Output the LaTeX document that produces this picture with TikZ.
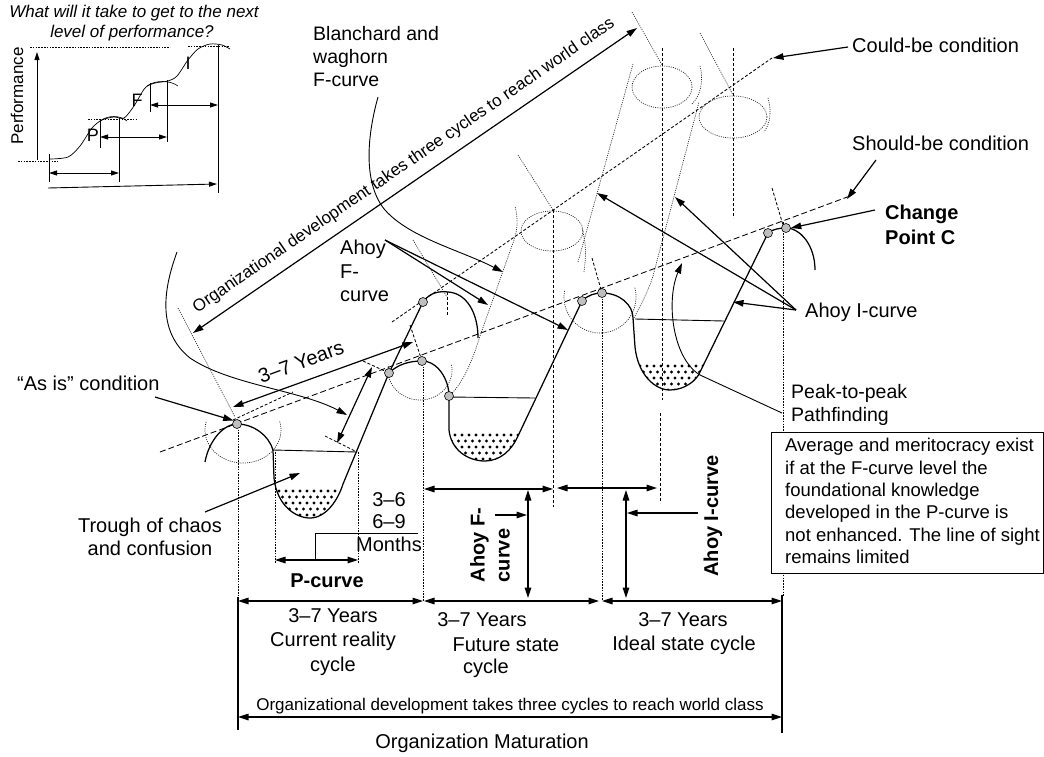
\documentclass[tikz,border=0pt]{standalone}
\usepackage{fontspec}
\setmainfont{Liberation Sans}
\usetikzlibrary{arrows.meta}
\begin{document}
\begin{tikzpicture}[x=1pt,y=-1pt,
  >={Triangle[length=10.5pt,width=6.5pt]},
  curve/.style={line width=1.25pt},
  lead/.style={line width=1.2pt},
  thinlead/.style={line width=0.9pt},
  fine/.style={line width=0.7pt, black!85, dash pattern=on 1pt off 1.2pt},
  vdot/.style={line width=0.75pt, dash pattern=on 1.6pt off 1.2pt},
  vdash/.style={line width=0.75pt, dash pattern=on 3pt off 2pt},
  should/.style={line width=0.85pt, dash pattern=on 6pt off 3pt},
  could/.style={line width=0.85pt, dash pattern=on 3pt off 2pt},
  pt/.style={circle, draw, fill=black!25, line width=0.6pt, minimum size=9pt, inner sep=0pt},
  lbl/.style={font=\fontsize{20}{23.5}\selectfont, inner sep=0pt},
  blbl/.style={font=\fontsize{20}{25}\selectfont\bfseries, inner sep=0pt},
  small/.style={font=\fontsize{17}{20}\selectfont, inner sep=0pt},
  insettext/.style={font=\fontsize{17}{20}\selectfont, inner sep=0pt},
  boxtext/.style={font=\fontsize{18.5}{22.4}\selectfont, inner sep=0pt, align=left},
  smallarrow/.style={>={Triangle[length=8pt,width=5pt]}},
]
\useasboundingbox (0,0) rectangle (1044,756);

% ---------------- inset: stepped performance curve ----------------
\node[insettext, font=\fontsize{17}{20}\selectfont\itshape] (q1) at (134,13) {What will it take to get to the next};
\node[insettext, font=\fontsize{17}{20}\selectfont\itshape] (q2) at (132,33) {level of performance?};
\node[insettext, rotate=90] (perf) at (17,96) {Performance};
\coordinate (pa0) at (37,160); \coordinate (pa1) at (37,52);
\draw[thinlead, smallarrow, ->] (pa0) -- (pa1);
\draw[vdot, line width=0.5pt] (30,47) -- (170,47);
\draw[vdot, line width=0.5pt] (188,46) -- (230,46);
\draw[vdot, line width=0.5pt] (88,119) -- (138,119);
\draw[vdot, line width=0.5pt] (18,161) -- (58,161);
\draw[line width=0.7pt] plot[smooth] coordinates {(50,159) (68,157) (80,146) (92,128) (102,120) (114,117) (124,118) (134,106) (145,88) (155,83) (168,81) (177,76) (188,60) (198,49) (210,44) (222,45) (230,49)};
\draw[line width=0.6pt] (100,121) .. controls (108,115) and (120,115) .. (127,121);
\draw[line width=0.6pt] (147,86) .. controls (155,80) and (170,80) .. (178,86);
\node[insettext, font=\fontsize{18}{20}\selectfont] (lp) at (93,135) {P};
\node[insettext, font=\fontsize{18}{20}\selectfont] (lf) at (137,100) {F};
\node[insettext, font=\fontsize{18}{20}\selectfont] (li) at (188,63) {I};
\draw[thinlead] (49,154) -- (49,182);
\draw[thinlead] (100,120) -- (100,148);
\draw[thinlead] (119,118) -- (119,182);
\draw[thinlead] (150,83) -- (150,112);
\draw[thinlead] (167,80) -- (167,142);
\draw[thinlead] (218,45) -- (218,193);
\draw[thinlead, smallarrow, <->] (49,173) -- (119,173);
\draw[thinlead, smallarrow, <->] (100,137) -- (167,137);
\draw[thinlead, smallarrow, <->] (150,105) -- (218,105);
\draw[thinlead, smallarrow, ->] (48,188) -- (217,184);

% ---------------- guide lines ----------------
% should-be and could-be condition lines
\draw[should] (160,452) -- (850,196);
\draw[could] (392,322) -- (772,58);
\draw[could] (233,420) -- (293,392);

% dotted hump circles below the should-be line
\draw[fine] plot[domain=-15:195, samples=40] ({243+38*cos(\x)},{430+33*sin(\x)});
\draw[fine] plot[domain=-10:190, samples=40] ({420+32*cos(\x)},{370+30*sin(\x)});
\draw[fine] plot[domain=-15:190, samples=40] ({600+36*cos(\x)},{297+36*sin(\x)});
% could-be humps
\draw[fine] (552,231) ellipse [x radius=31, y radius=20];
\draw[fine] (662,87) ellipse [x radius=30, y radius=21];
\draw[fine] (733,117) ellipse [x radius=34, y radius=21];
\draw[fine] (449,396) .. controls (462,385) and (472,362) .. (480,336) -- (514,240) .. controls (518,228) and (518,218) .. (515,206);
\draw[fine] (584,272) .. controls (587,250) and (585,240) .. (582,228);
\draw[fine] (578,262) -- (633,64);
\draw[fine] (633,320) .. controls (642,302) and (648,292) .. (653,276) -- (699,102);
\draw[fine] (700,66) .. controls (704,82) and (700,96) .. (692,104);
\draw[fine] (768,98) .. controls (772,112) and (770,124) .. (764,132);
% radial guides
\draw[fine] (178,308) -- (235,417);
\draw[fine] (413,240) -- (447,297);
\draw[fine] (518,155) -- (553,210);
\draw[fine] (632,12) -- (662,65);
\draw[fine] (700,33) -- (733,95);
\draw[could] (592,258) -- (602,293);
\draw[could] (772,188) -- (783,225);
\draw[could] (410,325) -- (422,361);
% vertical guides
\draw[vdash] (553,210) -- (553,507);
\draw[vdash] (662,48) -- (662,400);
\draw[vdash] (660,413) -- (660,503);
\draw[vdash] (733,48) -- (733,218);
\draw[vdash] (447,292) -- (447,315);
\draw[vdot] (238,424) -- (238,597);
\draw[vdot] (275,452) -- (275,563);
\draw[vdot] (358,452) -- (358,563);
\draw[vdot] (423,361) -- (423,601);
\draw[vdot] (602,293) -- (602,600);
\draw[vdot] (783,222) -- (783,597);

% ---------------- trough dots ----------------
\begin{scope}
  \clip (265,489) rectangle (360,525);
  \clip (273,450) -- (274,478) .. controls (277,506) and (296,518) .. (310,518) .. controls (326,518) and (338,500) .. (343,484) -- (357,452) -- cycle;
  \foreach \r in {0,...,5} \foreach \c in {0,...,13}
    \fill ({272+\c*7+3.5*mod(\r,2)},{491+\r*6}) circle (1.55);
\end{scope}
\begin{scope}
  \clip (440,433) rectangle (540,465);
  \clip (449,397) -- (449,430) .. controls (451,450) and (468,461) .. (485,461) .. controls (500,461) and (512,450) .. (518,436) -- (535,400) -- cycle;
  \foreach \r in {0,...,5} \foreach \c in {0,...,13}
    \fill ({448+\c*7+3.5*mod(\r,2)},{435+\r*6}) circle (1.55);
\end{scope}
\begin{scope}
  \clip (630,364) rectangle (730,395);
  \clip (635,319) -- (635,347) .. controls (638,375) and (655,390) .. (670,390) .. controls (685,390) and (697,380) .. (700,372) -- (724,321) -- cycle;
  \foreach \r in {0,...,5} \foreach \c in {0,...,13}
    \fill ({633+\c*7+3.5*mod(\r,2)},{366+\r*6}) circle (1.55);
\end{scope}

% ---------------- performance curves ----------------
\draw[curve] (205,462) .. controls (209,440) and (224,424) .. (237,424)
  .. controls (254,424) and (269,436) .. (273,450)
  -- (274,478) .. controls (277,506) and (296,518) .. (310,518)
  .. controls (326,518) and (338,500) .. (343,484)
  -- (389,373) -- (423,302)
  .. controls (430,292) and (440,291) .. (448,292)
  .. controls (466,293) and (478,312) .. (478,338);
\draw[curve] (389,373) .. controls (398,364) and (410,361) .. (422,361)
  .. controls (438,361) and (449,380) .. (449,396)
  -- (449,430) .. controls (451,450) and (468,461) .. (485,461)
  .. controls (500,461) and (512,450) .. (518,436)
  -- (582,301) .. controls (588,295) and (595,293) .. (602,293)
  .. controls (620,293) and (633,305) .. (633,318)
  -- (635,347) .. controls (638,375) and (655,390) .. (670,390)
  .. controls (685,390) and (697,380) .. (700,372)
  -- (768,233) .. controls (773,229) and (780,228) .. (786,228)
  .. controls (800,228) and (815,245) .. (815,270);
\draw[thinlead] (273,450) -- (357,452);
\draw[thinlead] (449,397) -- (535,398);
\draw[thinlead] (635,319) -- (724,321);

% ---------------- dimension arrows ----------------
\draw[lead, <->] (238,601) -- (423,601);
\draw[lead, <->] (424,601) -- (599,601);
\draw[lead, <->] (602,601) -- (782,601);
\draw[lead] (238,597) -- (238,730);
\draw[lead] (782,595) -- (782,733);
\draw[lead, <->] (238,717) -- (782,717);
\draw[lead, <->] (424,489) -- (553,489);
\draw[lead, <->] (557,488) -- (657,488);
\draw[lead, <->] (528,490) -- (528,598);
\draw[lead, <->] (626,490) -- (626,598);
\draw[lead, ->] (495,515) -- (527,515);
\draw[lead, ->] (698,513) -- (627,513);
\draw[lead, <->] (275,560) -- (358,560);
\draw[thinlead] (315,560) -- (315,533) -- (418,533);
\draw[lead, <->] (337,443) -- (372,367);
\draw[could] (325,436) -- (357,452);
\draw[could] (363,361) -- (389,373);
\draw[lead, <->] (233,407) -- (413,342);
\draw[lead, <->] (193,333) -- (637,28);

% ---------------- key points ----------------
\node[pt] (asis) at (237,424) {};
\node[pt] (f1) at (389,373) {};
\node[pt] (f2) at (422,361) {};
\node[pt] (f3) at (449,396) {};
\node[pt] (f4) at (423,302) {};
\node[pt] (i1) at (582,301) {};
\node[pt] (i2) at (602,293) {};
\node[pt] (c1) at (768,233) {};
\node[pt] (cpc) at (786,228) {};

% ---------------- text box ----------------
\node[draw, fill=white, line width=0.8pt, minimum width=272pt, minimum height=141pt, inner sep=0pt, anchor=north west] (boxr) at (771,432) {};
\node[boxtext, anchor=north west] (boxt) at (785,438) {Average and meritocracy exist\\if at the F-curve level the\\foundational knowledge\\developed in the P-curve is\\not enhanced. The line of sight\\remains limited};

% ---------------- labels ----------------
\node[lbl, align=left, anchor=west, font=\fontsize{19.5}{23}\selectfont] (blan) at (313,57) {Blanchard and\\waghorn\\F-curve};
\node[lbl, anchor=west] (could) at (852,45) {Could-be condition};
\node[lbl, anchor=west] (should) at (852,143) {Should-be condition};
\node[blbl, align=left, anchor=west] (cp) at (885,225) {Change\\Point C};
\node[lbl, anchor=west] (ahoyI) at (805,312) {Ahoy I-curve};
\node[lbl, align=left, anchor=west, font=\fontsize{19.5}{23}\selectfont] (peak) at (791,405) {Peak-to-peak\\Pathfinding};
\node[lbl, align=left, anchor=west] (ahoyF) at (340,271) {Ahoy\\F-\\curve};
\node[lbl, anchor=west] (asist) at (17,383) {“As is” condition};
\node[lbl, align=center] (trough) at (150,537) {Trough of chaos\\and confusion};
\node[lbl, rotate=20] (yrs) at (301,362) {3–7 Years};
\node[small, rotate=34.5] (diag) at (404,166) {Organizational development takes three cycles to reach world class};
\node[lbl, align=center, font=\fontsize{20}{22.5}\selectfont] (months) at (389,522) {3–6\\6–9\\Months};
\node[blbl] (pcurve) at (327,581) {P-curve};
\node[blbl, rotate=90, align=left] (ahoyFv) at (490,545) {Ahoy F-\\curve};
\node[blbl, rotate=90] (ahoyIv) at (713,516) {Ahoy I-curve};
\node[lbl, align=center, font=\fontsize{20}{24.5}\selectfont] (cyc1) at (333,642) {3–7 Years\\Current reality\\cycle};
\node[lbl] (cyc2a) at (482,620) {3–7 Years};
\node[lbl] (cyc2b) at (506,645) {Future state};
\node[lbl] (cyc2c) at (486,668) {cycle};
\node[lbl] (cyc3a) at (683,620) {3–7 Years};
\node[lbl] (cyc3b) at (684,645) {Ideal state cycle};
\node[small] (world) at (510,706) {Organizational development takes three cycles to reach world class};
\node[lbl] (mat) at (482,743) {Organization Maturation};

% ---------------- leaders ----------------
\coordinate (asisL) at (155,397);
\draw[lead, ->] (asisL) -- (asis.north west);
\coordinate (troughL) at (205,512);
\coordinate (troughT) at (300,473);
\draw[lead, ->] (troughL) -- (troughT);
\coordinate (couldL) at (848,47);
\coordinate (couldT) at (773,58);
\draw[lead, ->] (couldL) -- (couldT);
\coordinate (shouldL) at (876,160);
\coordinate (shouldT) at (847,199);
\draw[lead, ->] (shouldL) -- (shouldT);
\coordinate (cpL) at (875,210);
\draw[lead, ->] (cpL) -- (cpc.east);
\coordinate (ahoyIL) at (796,310);
\coordinate (ahoyIa) at (733,302);
\coordinate (ahoyIb) at (675,197);
\coordinate (ahoyIc) at (597,193);
\draw[lead, ->] (ahoyIL) -- (ahoyIa);
\draw[lead, ->] (ahoyIL) -- (ahoyIb);
\draw[lead, ->] (ahoyIL) -- (ahoyIc);
\coordinate (ahoyFL) at (385,240);
\coordinate (ahoyFa) at (488,305);
\coordinate (ahoyFb) at (568,330);
\draw[lead, ->] (ahoyFL) -- (ahoyFa);
\draw[lead, ->] (ahoyFL) -- (ahoyFb);
\coordinate (peakL) at (782,413);
\coordinate (peakT) at (682,263);
\draw[thinlead, ->] (peakL) -- (700,375) .. controls (672,358) and (666,300) .. (peakT);
\coordinate (blanL) at (378,97);
\coordinate (blanT) at (503,272);
\draw[thinlead, ->] (blanL) .. controls (366,140) and (364,185) .. (385,210) .. controls (410,238) and (460,250) .. (blanT);
\coordinate (bcurveL) at (177,252);
\coordinate (bcurveT) at (347,415);
\draw[thinlead, ->] (bcurveL) .. controls (165,285) and (155,330) .. (190,358) .. controls (230,385) and (300,390) .. (bcurveT);
\end{tikzpicture}
\end{document}
